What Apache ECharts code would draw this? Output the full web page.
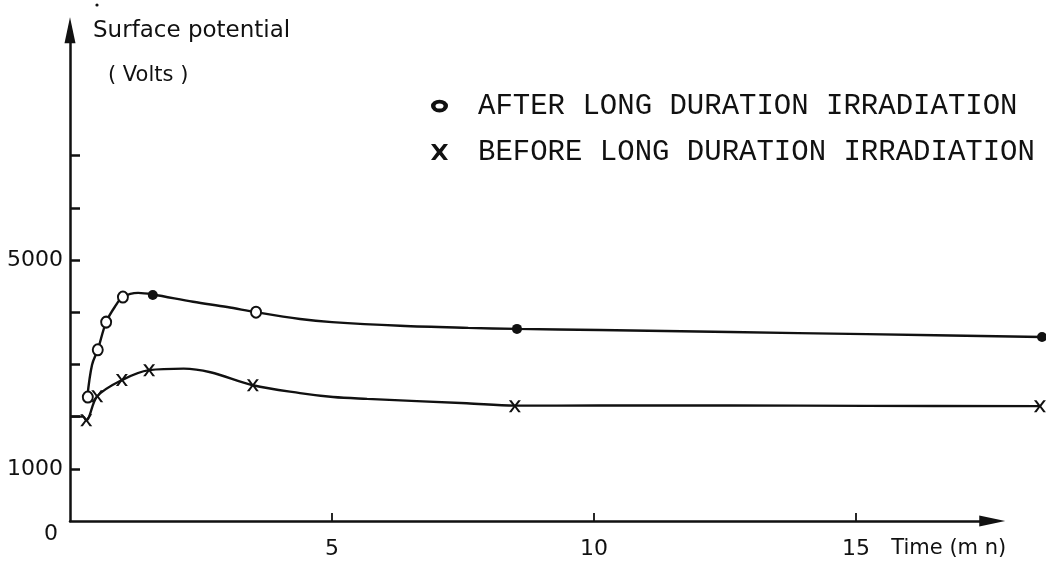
<!DOCTYPE html>
<html>
<head>
<meta charset="utf-8">
<script src="https://cdn.jsdelivr.net/npm/echarts@6/dist/echarts.min.js"></script>
<style>
  html, body { margin: 0; padding: 0; background: #fff; }
  #chart { width: 1046px; height: 567px; }
</style>
</head>
<body>
<div id="chart"></div>
<script>
// Surface potential (V) against time (min)
const afterName = 'AFTER LONG DURATION IRRADIATION';
const beforeName = 'BEFORE LONG DURATION IRRADIATION';

// measured points
const afterT = [0.34, 0.53, 0.69, 1.01, 1.58, 3.55, 8.53, 18.55];
const afterV = [2375, 3280, 3810, 4290, 4330, 4000, 3680, 3525];
const afterFilled = [false, false, false, false, true, false, true, true];

const beforeT = [0.31, 0.52, 0.99, 1.51, 3.49, 8.49, 18.51];
const beforeV = [1930, 2390, 2700, 2890, 2600, 2200, 2200];

// hand-drawn fitted curves
const afterCurveT = [0.33, 0.42, 0.53, 0.69, 0.86, 1.01, 1.30, 1.58, 2.35, 3.00, 3.55, 4.39, 5.00, 6.30, 7.60, 8.53, 10.1, 12.6, 15.2, 18.55];
const afterCurveV = [2375, 2990, 3280, 3810, 4110, 4290, 4370, 4340, 4200, 4100, 4000, 3870, 3810, 3740, 3700, 3680, 3660, 3620, 3580, 3525];

const beforeCurveT = [0, 0.25, 0.31, 0.52, 0.99, 1.51, 2.17, 2.68, 3.49, 4.39, 5.02, 5.67, 7.57, 8.49, 10.1, 12.6, 15.2, 18.51];
const beforeCurveV = [2000, 2000, 1930, 2390, 2700, 2890, 2920, 2850, 2600, 2450, 2375, 2340, 2255, 2210, 2212, 2215, 2205, 2200];

// axis ranges, ticks and labels
const timeAxisMax = 17.6;   // drawn time axis (arrow beyond)
const timeDataMax = 18.6;   // plotting extent of the curves
const voltAxisMax = 9400;
const yTickValues = [1000, 2000, 3000, 4000, 5000, 6000, 7000];
const yLabelValues = [0, 1000, 5000];
const xTickValues = [5, 10, 15];
const xLabelValues = [5, 10, 15];

const ink = '#111';
const sansFont = '"DejaVu Sans", sans-serif';
const monoFont = '"Liberation Mono", "DejaVu Sans Mono", monospace';

const crossPath = 'path://M0,0 L4,0 L8,5 L12,0 L16,0 L10.4,7.5 L16,15 L12,15 L8,10 L4,15 L0,15 L5.6,7.5 Z';
const ringPath = 'path://M0,6 A8,6 0 1,1 16,6 A8,6 0 1,1 0,6 Z M4.2,6 A3.8,2.4 0 1,0 11.8,6 A3.8,2.4 0 1,0 4.2,6 Z';
const smallCross = 'path://M0,0 L2.6,0 L6,4.3 L9.4,0 L12,0 L7.4,5.5 L12,11 L9.4,11 L6,6.7 L2.6,11 L0,11 L4.6,5.5 Z';

const zip = (xs, ys) => xs.map((x, i) => [x, ys[i]]);

const afterPoints = afterT.map((t, i) => afterFilled[i]
  ? { value: [t, afterV[i]], symbol: 'circle', symbolSize: 10, itemStyle: { color: ink, borderWidth: 0 } }
  : { value: [t, afterV[i]] });

// one px-per-minute scale shared by both grids
const plotLeft = 70;
const pxPerMin = 52.4;
const plotTop = 30.32;
const plotBottom = 46;

const chart = echarts.init(document.getElementById('chart'));
chart.setOption({
  backgroundColor: '#fff',
  animation: false,
  grid: [
    // data grid (reaches to the right edge)
    { left: plotLeft, right: 1046 - plotLeft - timeDataMax * pxPerMin, top: plotTop, bottom: plotBottom },
    // axis grid
    { left: plotLeft, right: 1046 - plotLeft - timeAxisMax * pxPerMin, top: plotTop, bottom: plotBottom }
  ],
  legend: {
    orient: 'vertical',
    left: 426,
    top: 86,
    itemWidth: 17,
    itemHeight: 17,
    itemGap: 16,
    selectedMode: false,
    textStyle: { fontFamily: monoFont, fontSize: 29, color: ink, lineHeight: 30, padding: [0, 0, 0, 25] },
    data: [
      { name: afterName, icon: ringPath, itemStyle: { color: ink, borderWidth: 0, opacity: 1 } },
      { name: beforeName, icon: crossPath, itemStyle: { color: ink, borderWidth: 0, opacity: 1 } }
    ]
  },
  xAxis: [
    { gridIndex: 0, type: 'value', min: 0, max: timeDataMax, show: false },
    {
      gridIndex: 1,
      type: 'value',
      min: 0,
      max: timeAxisMax,
      interval: 5,
      splitLine: { show: false },
      axisLine: {
        show: true,
        onZero: false,
        lineStyle: { color: ink, width: 2.5 },
        symbol: ['none', 'triangle'],
        symbolSize: [11, 26]
      },
      axisTick: { show: true, inside: true, length: 8, customValues: xTickValues, lineStyle: { color: ink, width: 1.8 } },
      axisLabel: {
        customValues: xLabelValues,
        margin: 17,
        fontFamily: sansFont,
        fontSize: 22,
        color: ink
      },
      name: 'Time (m n)',
      nameLocation: 'end',
      nameGap: 14,
      nameTextStyle: { fontFamily: sansFont, fontSize: 21, color: ink, align: 'right', verticalAlign: 'top', padding: [17, 0, 0, 0] }
    }
  ],
  yAxis: [
    { gridIndex: 0, type: 'value', min: 0, max: voltAxisMax, show: false },
    {
      gridIndex: 1,
      type: 'value',
      min: 0,
      max: voltAxisMax,
      interval: 1000,
      splitLine: { show: false },
      axisLine: {
        show: true,
        onZero: false,
        lineStyle: { color: ink, width: 2.5 },
        symbol: ['none', 'triangle'],
        symbolSize: [11, 26]
      },
      axisTick: { show: true, inside: true, length: 10, customValues: yTickValues, lineStyle: { color: ink, width: 2.5 } },
      axisLabel: {
        customValues: yLabelValues,
        margin: 7,
        fontFamily: sansFont,
        fontSize: 22,
        color: ink,
        formatter: v => v === 0 ? '{zero|0}' : String(v),
        rich: { zero: { fontFamily: sansFont, fontSize: 22, color: ink, padding: [26, 5, 0, 0] } }
      },
      name: '{a|Surface potential}\n{b|( Volts )}',
      nameLocation: 'end',
      nameGap: 21,
      nameTextStyle: {
        align: 'left',
        verticalAlign: 'top',
        color: ink,
        rich: {
          a: { fontFamily: sansFont, fontSize: 23, color: ink, lineHeight: 44, padding: [0, 0, 0, 23] },
          b: { fontFamily: sansFont, fontSize: 21, color: ink, lineHeight: 44, padding: [0, 0, 0, 38] }
        }
      }
    }
  ],
  graphic: [
    { type: 'circle', shape: { cx: 97, cy: 5, r: 1.6 }, style: { fill: ink } }
  ],
  series: [
    {
      name: 'after-curve',
      type: 'line',
      xAxisIndex: 0,
      yAxisIndex: 0,
      data: zip(afterCurveT, afterCurveV),
      smooth: 0.35,
      showSymbol: false,
      lineStyle: { color: ink, width: 2.4 },
      silent: true
    },
    {
      name: 'before-curve',
      type: 'line',
      xAxisIndex: 0,
      yAxisIndex: 0,
      data: zip(beforeCurveT, beforeCurveV),
      smooth: 0.35,
      showSymbol: false,
      lineStyle: { color: ink, width: 2.4 },
      silent: true
    },
    {
      name: afterName,
      type: 'scatter',
      xAxisIndex: 0,
      yAxisIndex: 0,
      data: afterPoints,
      symbol: 'emptyCircle',
      symbolSize: [10, 11],
      clip: false,
      itemStyle: { color: ink, borderColor: ink, borderWidth: 2, opacity: 1 },
      z: 5
    },
    {
      name: beforeName,
      type: 'scatter',
      xAxisIndex: 0,
      yAxisIndex: 0,
      data: zip(beforeT, beforeV),
      symbol: smallCross,
      symbolSize: [12, 12],
      clip: false,
      itemStyle: { color: ink, opacity: 1 },
      z: 5
    }
  ]
});
</script>
</body>
</html>
